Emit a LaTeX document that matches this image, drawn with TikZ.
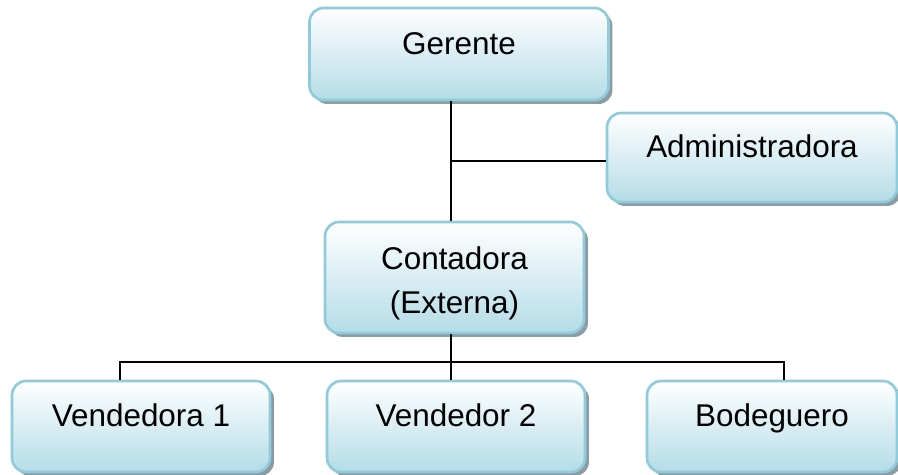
\documentclass[tikz,border=0pt]{standalone}
\usepackage{fontspec}
\setmainfont{Liberation Sans}
\usepackage{xcolor}
\usetikzlibrary{shadows,positioning}
\definecolor{borde}{HTML}{8FCBDA}
\definecolor{celeste}{HTML}{B4DCE7}
\definecolor{sombra}{HTML}{8C9CA3}

\begin{document}
\begin{tikzpicture}[x=0.02cm,y=-0.02cm,
  caja/.style={draw=borde, line width=1.5pt, rounded corners=0.28cm,
    top color=white, bottom color=celeste,
    drop shadow={shadow xshift=0.08cm, shadow yshift=-0.08cm, fill=sombra, opacity=1},
    inner xsep=0pt, inner ysep=0pt, align=center,
    font=\fontsize{17.9}{24.9}\selectfont},
  linea/.style={line width=1.2pt}]
\useasboundingbox (0,0) rectangle (898,474);

\node (gerente) at (459,54) [caja, minimum width=5.98cm, text height=0.92cm, text depth=0.92cm] {Gerente};
\node (admin) at (752,157.5) [caja, minimum width=5.8cm, text height=0.89cm, text depth=0.89cm] {Administradora};
\node (contadora) at (454.5,277.5) [caja, minimum width=5.18cm, text height=1.82cm, text depth=0.4cm] {Contadora\\(Externa)};

\node (vendedora1) at (141,426.5) [caja, minimum width=5.16cm, text height=0.91cm, text depth=0.91cm] {Vendedora 1};
\node (vendedor2) at (456,426.5) [caja, minimum width=5.16cm, text height=0.91cm, text depth=0.91cm] {Vendedor 2};
\node (bodeguero) at (772,426.5) [caja, minimum width=5cm, text height=0.91cm, text depth=0.91cm] {Bodeguero};

% conectores
\coordinate (eje) at (451,362);
\draw [linea] (eje |- gerente.south) -- (eje |- contadora.north);
\draw [linea] ([yshift=-0.07cm]eje |- admin.west) -- ([yshift=-0.07cm]admin.west);
\draw [linea] (eje |- contadora.south) -- (eje |- vendedor2.north);
\draw [linea] ([xshift=-0.42cm]vendedora1.north) |- (eje) -| ([xshift=0.24cm]bodeguero.north);
\end{tikzpicture}
\end{document}
